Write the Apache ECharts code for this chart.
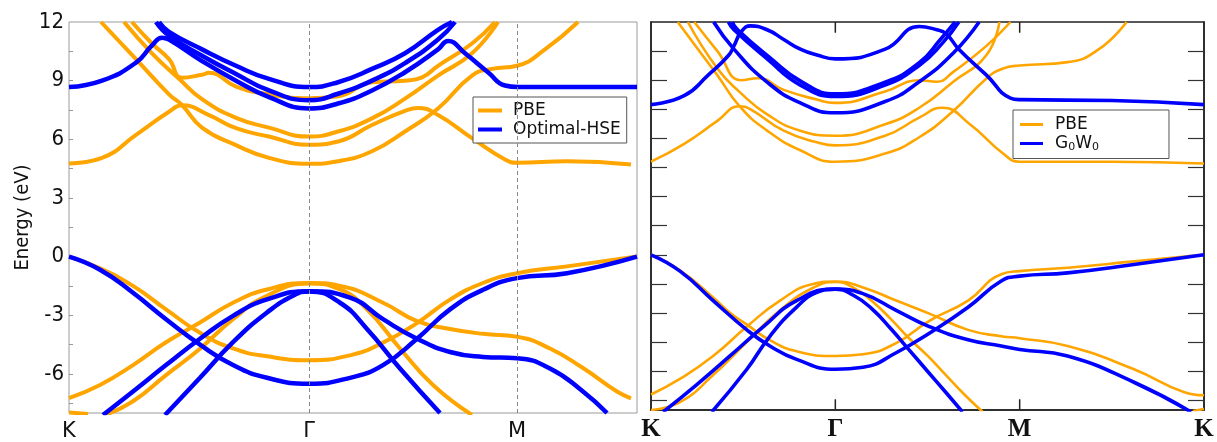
<!DOCTYPE html>
<html>
<head>
<meta charset="utf-8">
<script src="https://cdn.jsdelivr.net/npm/echarts@6/dist/echarts.min.js"></script>
<style>
  html, body { margin: 0; padding: 0; background: #fff; }
  #chart { width: 1217px; height: 442px; }
</style>
</head>
<body>
<div id="chart"></div>
<script>
// high-symmetry points: left panel in true path length, right panel evenly spaced
var pathLabels = ['K', 'Γ', 'M', 'K'];
var leftKpts = [0, 240, 448, 568];
var rightKpts = [0, 1, 2, 3];
var eMin = -8, eMax = 12;
var energyLabels = [-6, -3, 0, 3, 6, 9, 12];
var energyTicks = [-7.5, -6, -4.5, -3, -1.5, 0, 1.5, 3, 4.5, 6, 7.5, 9, 10.5];

// left panel, PBE bands (k, E in eV)
var pbeLeft = [
  [[0,0],[31,-0.6],[64,-1.5],[97,-2.7],[131,-3.9],[164,-4.7],[198,-5.1],[240,-5.3],[281,-5.05],[314,-4.4],[348,-3.4],[381,-2.2],[414,-1.35],[448,-0.85],[498,-0.5],[568,0]],
  [[0,-7.24],[31,-6.57],[64,-5.55],[97,-4.38],[131,-3.37],[164,-2.36],[198,-1.68],[240,-1.35],[271,-1.5],[314,-2.36],[348,-3.3],[381,-3.7],[414,-3.95],[448,-4.1],[481,-4.7],[514,-5.7],[548,-6.9],[562,-7.25]],
  [[36,-8.1],[64,-7.4],[97,-6.06],[131,-4.71],[164,-3.2],[198,-2.0],[240,-1.38],[271,-1.68],[298,-2.7],[331,-4.7],[364,-6.57],[403,-8.1]],
  [[0,-7.97],[19,-8.05]],
  [[32,12],[67,10.1],[100,8.3],[113,7.75],[133,6.6],[167,5.7],[200,5.05],[240,4.75],[269,4.88],[303,5.39],[336,6.4],[369,7.58],[403,9.26],[423,9.6],[448,9.76],[476,10.6],[509,12]],
  [[0,4.76],[33,5.05],[67,6.23],[100,7.41],[113,7.74],[140,7.24],[167,6.57],[200,6.14],[240,5.72],[269,5.89],[303,6.73],[336,7.45],[349,7.6],[369,7.24],[403,6.06],[436,4.97],[448,4.8],[498,4.88],[562,4.71]],
  [[55,12],[83,10.4],[110,9.1],[133,8.05],[167,7.1],[200,6.6],[240,6.14],[269,6.4],[303,7.07],[336,8.08],[369,9.26],[403,10.4],[429,12]],
  [[63,12],[83,10.9],[100,10.1],[113,9.15],[133,9.3],[140,9.4],[167,8.7],[200,8.3],[240,8.1],[269,8.2],[303,8.92],[336,9.0],[353,9.17],[369,9.76],[403,10.9],[426,12]]
];

// left panel, Optimal-HSE bands
var hseLeft = [
  [[0,0],[31,-0.67],[64,-1.85],[97,-3.2],[131,-4.5],[164,-5.55],[198,-6.2],[240,-6.5],[281,-6.2],[314,-5.55],[348,-4.2],[381,-2.7],[414,-1.7],[448,-1.1],[498,-0.85],[568,0]],
  [[34,-8.1],[64,-6.9],[97,-5.55],[131,-4.2],[164,-3.03],[198,-2.19],[240,-1.77],[281,-2.1],[314,-3.2],[348,-4.2],[381,-4.88],[414,-5.13],[448,-5.2],[481,-5.72],[514,-6.9],[538,-8.0]],
  [[96,-8.1],[131,-6.2],[164,-4.38],[198,-2.86],[224,-2.0],[240,-1.78],[271,-2.36],[298,-3.7],[331,-5.72],[371,-8.0]],
  [[0,8.67],[33,9.0],[67,9.92],[83,10.8],[93,11.2],[100,11.1],[133,10.0],[167,9.0],[200,8.16],[240,7.58],[269,7.83],[303,8.5],[336,9.43],[369,10.6],[379,11.03],[396,10.4],[419,9.43],[436,8.75],[449,8.67],[568,8.67]],
  [[87,12],[100,11.3],[133,10.27],[167,9.34],[200,8.5],[240,8.0],[269,8.33],[303,9.0],[336,9.9],[369,11.1],[386,12]],
  [[90,12],[100,11.5],[133,10.6],[167,9.76],[200,9.09],[240,8.67],[269,8.92],[303,9.6],[336,10.4],[369,11.6],[383,12]]
];

// right panel, PBE bands
var pbeRight = [
  [[0,0],[0.157,-0.8],[0.337,-2.2],[0.43,-3.0],[0.52,-3.6],[0.645,-4.4],[0.79,-4.97],[1,-5.22],[1.15,-5.13],[1.33,-4.55],[1.51,-3.4],[1.72,-2.36],[1.9,-1.0],[2,-0.84],[2.26,-0.67],[2.62,-0.34],[3,0]],
  [[0,-7.2],[0.157,-6.4],[0.337,-5.22],[0.52,-3.7],[0.7,-2.36],[0.88,-1.5],[1,-1.38],[1.15,-1.68],[1.33,-2.36],[1.51,-3.03],[1.72,-3.87],[1.9,-4.2],[2,-4.3],[2.26,-4.7],[2.62,-5.9],[2.89,-7.07],[3,-7.24]],
  [[0,-8.0],[0.157,-7.6],[0.337,-6.2],[0.52,-4.5],[0.7,-2.86],[0.88,-1.7],[1,-1.4],[1.1,-1.7],[1.2,-2.4],[1.3,-3.3],[1.4,-4.3],[1.5,-5.2],[1.6,-6.2],[1.7,-7.2],[1.8,-8.1]],
  [[2.94,-8.05],[3,-7.95]],
  [[0.145,12],[0.27,10.4],[0.36,9.26],[0.48,7.66],[0.63,6.4],[0.81,5.39],[1,4.8],[1.27,5.22],[1.455,6.06],[1.64,7.41],[1.82,9.09],[1.91,9.6],[2,9.76],[2.26,9.93],[2.43,10.6],[2.58,12]],
  [[0,4.8],[0.18,5.72],[0.36,6.9],[0.48,7.66],[0.54,7.5],[0.72,6.4],[0.9,5.8],[1,5.64],[1.27,6.14],[1.455,7.07],[1.58,7.58],[1.73,6.73],[1.91,5.22],[2,4.8],[2.5,4.8],[3,4.71]],
  [[0.2,12],[0.36,9.6],[0.48,8.4],[0.63,7.24],[0.81,6.4],[1,6.14],[1.27,6.73],[1.455,7.58],[1.64,8.92],[1.82,10.3],[1.89,12]],
  [[0.235,12],[0.36,10.5],[0.49,9.0],[0.58,9.1],[0.72,8.5],[0.9,8.0],[1,7.83],[1.27,8.42],[1.455,9.0],[1.55,8.92],[1.64,9.43],[1.82,10.77],[1.95,12]]
];

// right panel, G0W0 bands
var gwRight = [
  [[0,0],[0.157,-0.84],[0.337,-2.36],[0.52,-3.87],[0.645,-4.7],[0.79,-5.39],[1,-5.9],[1.15,-5.8],[1.33,-5.05],[1.51,-4.04],[1.72,-2.7],[1.9,-1.35],[2,-1.1],[2.26,-0.93],[2.62,-0.5],[3,0]],
  [[0.066,-8.1],[0.247,-6.7],[0.43,-5.2],[0.61,-3.7],[0.79,-2.36],[1,-1.77],[1.15,-2.0],[1.33,-2.86],[1.51,-3.7],[1.72,-4.38],[1.9,-4.7],[2,-4.88],[2.26,-5.22],[2.62,-6.57],[2.93,-8.1]],
  [[0.33,-8.1],[0.52,-5.9],[0.645,-4.2],[0.79,-2.7],[0.9,-1.94],[1,-1.77],[1.1,-2.1],[1.2,-2.8],[1.3,-3.8],[1.4,-4.9],[1.5,-6.0],[1.6,-7.1],[1.69,-8.1]],
  [[0,7.74],[0.18,8.2],[0.31,9.26],[0.42,10.27],[0.45,10.77],[0.49,11.5],[0.54,11.8],[0.63,11.6],[0.72,11.1],[0.81,10.6],[0.9,10.3],[1,10.1],[1.27,10.6],[1.455,11.77],[1.55,11.6],[1.6,11.4],[1.67,10.6],[1.82,9.26],[1.95,8.08],[2,8.0],[2.5,7.95],[3,7.74]],
  [[0.34,12],[0.45,10.6],[0.63,8.9],[0.81,7.83],[1,7.32],[1.27,7.9],[1.455,8.92],[1.64,10.4],[1.78,12]],
  [[0.42,12],[0.45,11.6],[0.63,10.1],[0.81,8.75],[1,8.16],[1.27,8.75],[1.455,9.76],[1.58,10.9],[1.67,12]],
  [[0.44,12],[0.47,11.6],[0.64,10.2],[0.82,8.9],[1,8.3],[1.27,8.9],[1.455,9.9],[1.57,11.1],[1.65,12]]
];

var orange = '#ffa500', blue = '#0000ff';
var chart = echarts.init(document.getElementById('chart'));

function bandSeries(bands, name, color, width, axisIdx) {
  return bands.map(function(b) {
    return {
      type: 'line', name: name, data: b, xAxisIndex: axisIdx, yAxisIndex: axisIdx,
      symbol: 'none', smooth: 0.5, clip: true, silent: true,
      lineStyle: { color: color, width: width }, itemStyle: { color: color }
    };
  });
}

var series = [];
series.push({
  type: 'line', data: [], xAxisIndex: 0, yAxisIndex: 0, silent: true,
  markLine: {
    silent: true, symbol: ['none', 'none'], label: { show: false },
    lineStyle: { color: '#8a8a8a', type: [4, 3], width: 1 },
    data: [{ xAxis: leftKpts[1] }, { xAxis: leftKpts[2] }]
  }
});

// inward x ticks at Γ and M on the right panel (bottom and top frame)
var tickLen = 0.55;
rightKpts.slice(1, 3).forEach(function(k) {
  [[eMin, eMin + tickLen], [eMax, eMax - tickLen]].forEach(function(ends) {
    series.push({
      type: 'line', xAxisIndex: 1, yAxisIndex: 1, silent: true, symbol: 'none', z: 5,
      data: [[k, ends[0]], [k, ends[1]]],
      lineStyle: { color: '#222', width: 1.5 }
    });
  });
});

series = series.concat(bandSeries(pbeLeft, 'PBE', orange, 4, 0));
series = series.concat(bandSeries(hseLeft, 'Optimal-HSE', blue, 4.5, 0));
series = series.concat(bandSeries(pbeRight, 'PBE2', orange, 2.6, 1));
series = series.concat(bandSeries(gwRight, 'G0W0', blue, 3.6, 1));

var sans = 'DejaVu Sans';
var noLine = { show: false, onZero: false };
var rightEdge = { show: true, onZero: false, lineStyle: { color: '#222', width: 1.5 } };

chart.setOption({
  animation: false,
  backgroundColor: '#fff',
  grid: [
    { left: 69, top: 22, width: 568, height: 397, show: true, borderColor: '#9a9a9a', borderWidth: 1 },
    { left: 651, top: 22, width: 553, height: 397, show: true, borderColor: '#222', borderWidth: 1.5 }
  ],
  xAxis: [
    {
      type: 'value', gridIndex: 0, min: 0, max: 568,
      axisLine: noLine, splitLine: { show: false }, axisTick: { show: false },
      axisLabel: {
        customValues: leftKpts.slice(0, 3), margin: 8, color: '#111',
        fontFamily: sans, fontSize: 21,
        formatter: function(v) { return pathLabels[leftKpts.indexOf(v)]; }
      }
    },
    {
      type: 'value', gridIndex: 1, min: 0, max: 3, interval: 1,
      axisLine: rightEdge, splitLine: { show: false }, axisTick: { show: false },
      axisLabel: {
        margin: 7, color: '#111', fontFamily: 'Liberation Serif', fontWeight: 'bold', fontSize: 25,
        formatter: function(v) { return pathLabels[rightKpts.indexOf(v)]; }
      }
    }
  ],
  yAxis: [
    {
      type: 'value', gridIndex: 0, min: eMin, max: eMax,
      axisLine: noLine, splitLine: { show: false },
      axisTick: { show: true, inside: true, length: 4, customValues: energyTicks, lineStyle: { color: '#999' } },
      axisLabel: { customValues: energyLabels, margin: 5, color: '#111', fontFamily: 'DejaVu Sans Condensed', fontSize: 22 },
      name: 'Energy (eV)', nameLocation: 'middle', nameGap: 36,
      nameTextStyle: { color: '#111', fontFamily: 'DejaVu Sans Condensed', fontSize: 20 }
    },
    {
      type: 'value', gridIndex: 1, position: 'left', min: eMin, max: eMax,
      axisLine: rightEdge, splitLine: { show: false }, axisLabel: { show: false },
      axisTick: { show: true, inside: true, length: 16, customValues: energyTicks, lineStyle: { color: '#333', width: 1.2 } }
    },
    {
      type: 'value', gridIndex: 1, position: 'right', min: eMin, max: eMax,
      axisLine: rightEdge, splitLine: { show: false }, axisLabel: { show: false },
      axisTick: { show: true, inside: true, length: 16, customValues: energyTicks, lineStyle: { color: '#333', width: 1.2 } }
    }
  ],
  legend: [
    {
      data: ['PBE', 'Optimal-HSE'], left: 473, top: 97, orient: 'vertical',
      icon: 'rect', itemWidth: 24, itemHeight: 4, itemGap: 2, padding: [5, 6, 5, 5],
      borderColor: '#555', borderWidth: 1, backgroundColor: '#fff', selectedMode: false,
      textStyle: { fontFamily: sans, fontSize: 17, color: '#111', padding: [0, 0, 0, 6] }
    },
    {
      data: ['PBE2', 'G0W0'], left: 1013, top: 110, orient: 'vertical',
      icon: 'rect', itemWidth: 23, itemHeight: 3, itemGap: 2, padding: [6, 70, 6, 7],
      borderColor: '#555', borderWidth: 1, backgroundColor: '#fff', selectedMode: false,
      formatter: function(n) { return n === 'PBE2' ? '{n|PBE}' : '{n|G}{s|0}{n|W}{s|0}'; },
      textStyle: {
        fontFamily: sans, fontSize: 17, color: '#111', padding: [0, 0, 0, 7],
        rich: {
          n: { fontFamily: sans, fontSize: 17, color: '#111' },
          s: { fontFamily: sans, fontSize: 11, color: '#111', padding: [7, 0, 0, 0] }
        }
      }
    }
  ],
  series: series
});
</script>
</body>
</html>
